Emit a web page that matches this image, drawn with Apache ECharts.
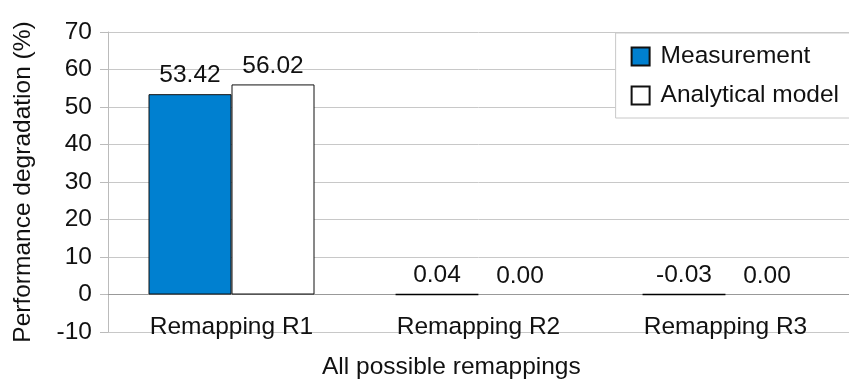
<!DOCTYPE html>
<html><head><meta charset="utf-8">
<script src="https://cdn.jsdelivr.net/npm/echarts@6/dist/echarts.min.js"></script>
<style>html,body{margin:0;padding:0;background:#fff}#c{width:849px;height:385px}</style>
</head><body><div id="c"></div>
<script>
const categories = ['Remapping R1', 'Remapping R2', 'Remapping R3'];
const measurement = [53.42, 0.04, -0.03];
const analytical = [56.02, 0.00, 0.00];
const yTicks = {min: -10, max: 70, interval: 10};

const font = 'Liberation Sans, Arial, sans-serif';
const FS = 24.5;
const chart = echarts.init(document.getElementById('c'));
function items(vals){
  return vals.map(v => ({value: v,
    itemStyle: v === 0 ? {borderWidth: 0} : (Math.abs(v) < 1 ? {borderWidth: 1.6, borderColor: '#000'} : {})}));
}
const label = {show: true, position: 'top', distance: 6, color: '#111', fontSize: FS, fontFamily: font,
  formatter: p => p.value.toFixed(2)};
chart.setOption({
  animation: false,
  grid: {left: 108, top: 32, bottom: 53, right: -9, containLabel: false},
  legend: {
    right: -30, top: 33, orient: 'vertical', backgroundColor: '#fff', borderColor: '#c8c8c8', borderWidth: 1,
    padding: [11, 40, 10, 15], itemGap: 14, itemWidth: 18, itemHeight: 18, icon: 'rect',
    textStyle: {fontSize: FS, fontFamily: font, color: '#111', padding: [0, 0, 0, 6]},
    data: ['Measurement', 'Analytical model']
  },
  xAxis: {
    type: 'category', data: categories, offset: -37.5,
    axisLine: {onZero: false, lineStyle: {color: '#999'}},
    axisTick: {length: 9, lineStyle: {color: '#999'}},
    axisLabel: {fontSize: FS, fontFamily: font, color: '#111', margin: 20}
  },
  yAxis: {
    type: 'value', min: yTicks.min, max: yTicks.max, interval: yTicks.interval,
    name: 'Performance degradation (%)', nameLocation: 'middle', nameGap: 72,
    nameTextStyle: {fontSize: FS, fontFamily: font, color: '#111'},
    axisLine: {show: true, lineStyle: {color: '#bbb'}},
    axisTick: {show: true, length: 8, lineStyle: {color: '#bbb'}},
    axisLabel: {fontSize: FS, fontFamily: font, color: '#111', margin: 16},
    splitLine: {lineStyle: {color: '#c8c8c8'}}
  },
  graphic: [{type: 'text', left: 322, top: 355,
    style: {text: 'All possible remappings', fontSize: FS, fontFamily: font, fill: '#111'}}],
  series: [
    {name: 'Measurement', type: 'bar', data: items(measurement), barWidth: 83, barGap: '0%',
      itemStyle: {color: '#0080d0', borderColor: '#111', borderWidth: 1}, label},
    {name: 'Analytical model', type: 'bar', data: items(analytical), barWidth: 83,
      itemStyle: {color: '#ffffff', borderColor: '#111', borderWidth: 1}, label}
  ]
});
</script></body></html>
